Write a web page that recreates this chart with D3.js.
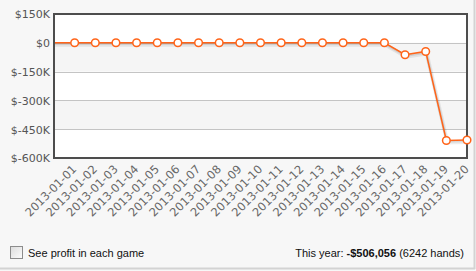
<!DOCTYPE html>
<html>
<head>
<meta charset="utf-8">
<script src="https://cdn.jsdelivr.net/npm/d3@7/dist/d3.min.js"></script>
<style>
  html, body { margin: 0; padding: 0; background: #fff; }
  #chart { width: 476px; height: 271px; }
  svg { display: block; }
  .tick text { font-family: "DejaVu Sans", Verdana, sans-serif; font-size: 11px; }
  .foot { font-family: "Liberation Sans", Arial, sans-serif; font-size: 11px; fill: #111; }
</style>
</head>
<body>
<div id="chart"></div>
<script>
// ---- data
const dates = [
  '2013-01-01', '2013-01-02', '2013-01-03', '2013-01-04', '2013-01-05',
  '2013-01-06', '2013-01-07', '2013-01-08', '2013-01-09', '2013-01-10',
  '2013-01-11', '2013-01-12', '2013-01-13', '2013-01-14', '2013-01-15',
  '2013-01-16', '2013-01-17', '2013-01-18', '2013-01-19', '2013-01-20'
];
const profit = [
  0, 0, 0, 0, 0, 0, 0, 0, 0, 0,
  0, 0, 0, 0, 0, 0, -62000, -45000, -509000, -506056
];
const yTicks = [150000, 0, -150000, -300000, -450000, -600000];
const summaryLabel = 'This year: ';
const summaryValue = '-$506,056';
const summaryHands = ' (6242 hands)';
const checkboxLabel = 'See profit in each game';

// ---- layout
const W = 476, H = 271;
const plot = { left: 54, right: 467, top: 14, bottom: 158 };
const ORANGE = '#ff6419';

const svg = d3.select('#chart').append('svg')
  .attr('width', W).attr('height', H);

// panel background + bottom / right rule
svg.append('rect').attr('width', W).attr('height', H).attr('fill', '#f7f7f7');
svg.append('line').attr('x1', 0).attr('x2', 475).attr('y1', 268.5).attr('y2', 268.5)
  .attr('stroke', '#d3d3d3').attr('stroke-width', 2);
svg.append('line').attr('x1', 474.5).attr('x2', 474.5).attr('y1', 0).attr('y2', 269)
  .attr('stroke', '#d3d3d3').attr('stroke-width', 2);

const x = d3.scaleLinear().domain([0, dates.length]).range([plot.left, plot.right]);
const y = d3.scaleLinear().domain([-600000, 150000]).range([plot.bottom, plot.top]);

// plot area + alternating bands
svg.append('rect')
  .attr('x', plot.left).attr('y', plot.top)
  .attr('width', plot.right - plot.left).attr('height', plot.bottom - plot.top)
  .attr('fill', '#fff');

const bands = d3.pairs(yTicks).filter((_, i) => i % 2 === 1);
svg.append('g').selectAll('rect').data(bands).join('rect')
  .attr('x', plot.left).attr('width', plot.right - plot.left)
  .attr('y', d => y(d[0])).attr('height', d => y(d[1]) - y(d[0]))
  .attr('fill', '#f5f5f5');

svg.append('g').selectAll('line').data(yTicks).join('line')
  .attr('x1', plot.left).attr('x2', plot.right)
  .attr('y1', d => Math.round(y(d)) + 0.5).attr('y2', d => Math.round(y(d)) + 0.5)
  .attr('stroke', '#c4c4c4');

// axes
const fmt = v => v === 0 ? '$0' : `$${v / 1000}K`;
const yAxis = svg.append('g')
  .attr('transform', `translate(${plot.left},0)`)
  .call(d3.axisLeft(y).tickValues(yTicks).tickFormat(fmt).tickSize(0).tickPadding(4));
yAxis.select('.domain').remove();
yAxis.selectAll('text').attr('fill', '#555').attr('dy', '0.36em');

const xAxis = svg.append('g')
  .attr('transform', `translate(0,${plot.bottom})`)
  .call(d3.axisBottom(x).tickValues(d3.range(1, dates.length + 1))
    .tickFormat(i => dates[i - 1]).tickSize(0));
xAxis.select('.domain').remove();
xAxis.selectAll('text')
  .attr('fill', '#666')
  .style('font-size', '11.5px')
  .attr('text-anchor', 'end')
  .attr('x', -6.9).attr('y', 9.9).attr('dy', 0)
  .attr('transform', 'rotate(-45)');

// line + shadow
const lineStart = [[plot.left, y(profit[0])]];
const pts = profit.map((d, i) => [x(i + 1), y(d)]);
const fullLine = d3.line()(lineStart.concat(pts));

svg.append('path').attr('d', fullLine)
  .attr('transform', 'translate(1,2)')
  .attr('fill', 'none').attr('stroke', 'rgba(0,0,0,0.07)').attr('stroke-width', 4);
svg.append('path').attr('d', fullLine)
  .attr('transform', 'translate(0.5,1)')
  .attr('fill', 'none').attr('stroke', 'rgba(0,0,0,0.09)').attr('stroke-width', 2.5);
svg.append('path').attr('d', fullLine)
  .attr('fill', 'none').attr('stroke', ORANGE).attr('stroke-width', 1.5);

// frame
svg.append('rect')
  .attr('x', plot.left).attr('y', plot.top)
  .attr('width', plot.right - plot.left).attr('height', plot.bottom - plot.top)
  .attr('fill', 'none').attr('stroke', '#4d4d4d').attr('stroke-width', 2);

// markers
svg.append('g').selectAll('circle').data(profit).join('circle')
  .attr('cx', (_, i) => x(i + 1)).attr('cy', d => y(d))
  .attr('r', 3.8)
  .attr('fill', '#fff').attr('stroke', ORANGE).attr('stroke-width', 1.5);

// footer: checkbox + summary
const grad = svg.append('defs').append('linearGradient')
  .attr('id', 'cb').attr('x1', 0).attr('y1', 0).attr('x2', 1).attr('y2', 1);
grad.append('stop').attr('offset', '0%').attr('stop-color', '#dcdcdc');
grad.append('stop').attr('offset', '100%').attr('stop-color', '#fdfdfd');
svg.append('rect').attr('x', 10.5).attr('y', 246.5).attr('width', 12).attr('height', 12)
  .attr('fill', 'url(#cb)').attr('stroke', '#8c8c8c');
svg.append('text').attr('class', 'foot').attr('x', 28).attr('y', 257).text(checkboxLabel);

const summary = svg.append('text').attr('class', 'foot')
  .attr('x', 464).attr('y', 257).attr('text-anchor', 'end');
summary.append('tspan').text(summaryLabel);
summary.append('tspan').attr('font-weight', 'bold').text(summaryValue);
summary.append('tspan').text(summaryHands);
</script>
</body>
</html>
